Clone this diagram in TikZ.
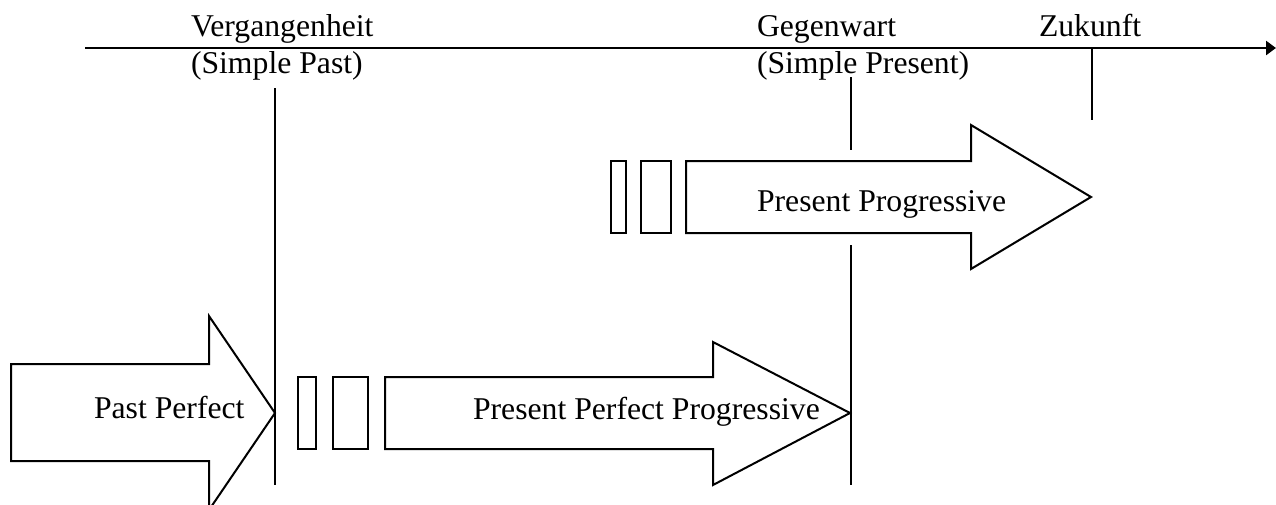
\documentclass[tikz,border=0pt]{standalone}
\usepackage{fontspec}
\setmainfont{Liberation Serif}
\usetikzlibrary{arrows.meta}
\usetikzlibrary{positioning}

\begin{document}
\begin{tikzpicture}[line join=miter,line width=1pt,>={Triangle[length=5pt,width=7pt]},x=0.5pt,y=-0.5pt,
  lbl/.style={anchor=base west,inner sep=0pt,font=\fontsize{15.85}{19}\selectfont}]
\useasboundingbox (0,0) rectangle (1276,504);
% Zeitachse
\draw[->,line width=1.4pt] (85,48) -- (1276,48);
\draw (275,88) -- (275,485);
\draw (851,77) -- (851,150);
\draw (851,245) -- (851,485);
\draw (1092,48) -- (1092,120);
\node[lbl] (verg) at (190,36) {Vergangenheit};
\node[lbl] (sipast) at (190,73) {(Simple Past)};
\node[lbl] (gegen) at (756,36) {Gegenwart};
\node[lbl] (sipres) at (756,73) {(Simple Present)};
\node[lbl] (zuk) at (1038,36) {Zukunft};
% Pfeile
\draw (11,364) -- (209,364) -- (209,316) -- (275,413) -- (209,510) -- (209,461) -- (11,461) -- cycle;
\draw (385,377) -- (713,377) -- (713,342) -- (850,413) -- (713,485) -- (713,449) -- (385,449) -- cycle;
\draw (686,161) -- (971,161) -- (971,125) -- (1091,197) -- (971,269) -- (971,233) -- (686,233) -- cycle;
\draw (298,377) rectangle (316,449);
\draw (333,377) rectangle (368,449);
\draw (611,161) rectangle (626,233);
\draw (641,161) rectangle (671,233);
\node[lbl] (pastperf) at (93,418) {Past Perfect};
\node[lbl] (presperfprog) at (472,419) {Present Perfect Progressive};
\node[lbl] (presprog) at (756,211) {Present Progressive};
\end{tikzpicture}
\end{document}
